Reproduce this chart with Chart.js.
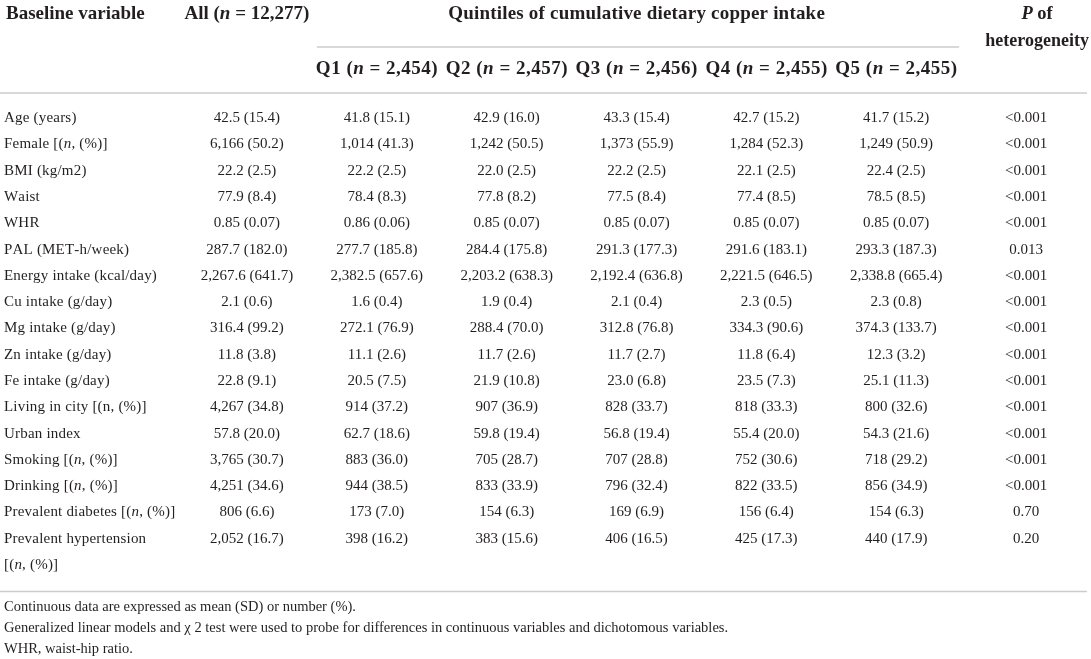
<!DOCTYPE html>
<html>
<head>
<meta charset="utf-8">
<script src="https://cdn.jsdelivr.net/npm/chart.js@4.4.1/dist/chart.umd.min.js"></script>
<style>
  html, body { margin: 0; padding: 0; background: #ffffff; }
  #wrap { width: 1091px; height: 659px; position: relative; }
</style>
</head>
<body>
<div id="wrap"><canvas id="c"></canvas></div>
<script>
// ---- Data (asterisks mark italic segments, | marks a line break) ----
const headerTitle = 'Baseline variable';
const columnHeaders = ['All (*n* = 12,277)', 'Q1 (*n* = 2,454)', 'Q2 (*n* = 2,457)', 'Q3 (*n* = 2,456)', 'Q4 (*n* = 2,455)', 'Q5 (*n* = 2,455)', '*P* of|heterogeneity'];
const groupHeader = 'Quintiles of cumulative dietary copper intake';

const rowLabels = [
  'Age (years)', 'Female [(*n*, (%)]', 'BMI (kg/m2)', 'Waist', 'WHR', 'PAL (MET-h/week)',
  'Energy intake (kcal/day)', 'Cu intake (g/day)', 'Mg intake (g/day)', 'Zn intake (g/day)',
  'Fe intake (g/day)', 'Living in city [(n, (%)]', 'Urban index', 'Smoking [(*n*, (%)]',
  'Drinking [(*n*, (%)]', 'Prevalent diabetes [(*n*, (%)]', 'Prevalent hypertension|[(*n*, (%)]'
];

const allValues = ['42.5 (15.4)', '6,166 (50.2)', '22.2 (2.5)', '77.9 (8.4)', '0.85 (0.07)', '287.7 (182.0)', '2,267.6 (641.7)', '2.1 (0.6)', '316.4 (99.2)', '11.8 (3.8)', '22.8 (9.1)', '4,267 (34.8)', '57.8 (20.0)', '3,765 (30.7)', '4,251 (34.6)', '806 (6.6)', '2,052 (16.7)'];
const q1Values = ['41.8 (15.1)', '1,014 (41.3)', '22.2 (2.5)', '78.4 (8.3)', '0.86 (0.06)', '277.7 (185.8)', '2,382.5 (657.6)', '1.6 (0.4)', '272.1 (76.9)', '11.1 (2.6)', '20.5 (7.5)', '914 (37.2)', '62.7 (18.6)', '883 (36.0)', '944 (38.5)', '173 (7.0)', '398 (16.2)'];
const q2Values = ['42.9 (16.0)', '1,242 (50.5)', '22.0 (2.5)', '77.8 (8.2)', '0.85 (0.07)', '284.4 (175.8)', '2,203.2 (638.3)', '1.9 (0.4)', '288.4 (70.0)', '11.7 (2.6)', '21.9 (10.8)', '907 (36.9)', '59.8 (19.4)', '705 (28.7)', '833 (33.9)', '154 (6.3)', '383 (15.6)'];
const q3Values = ['43.3 (15.4)', '1,373 (55.9)', '22.2 (2.5)', '77.5 (8.4)', '0.85 (0.07)', '291.3 (177.3)', '2,192.4 (636.8)', '2.1 (0.4)', '312.8 (76.8)', '11.7 (2.7)', '23.0 (6.8)', '828 (33.7)', '56.8 (19.4)', '707 (28.8)', '796 (32.4)', '169 (6.9)', '406 (16.5)'];
const q4Values = ['42.7 (15.2)', '1,284 (52.3)', '22.1 (2.5)', '77.4 (8.5)', '0.85 (0.07)', '291.6 (183.1)', '2,221.5 (646.5)', '2.3 (0.5)', '334.3 (90.6)', '11.8 (6.4)', '23.5 (7.3)', '818 (33.3)', '55.4 (20.0)', '752 (30.6)', '822 (33.5)', '156 (6.4)', '425 (17.3)'];
const q5Values = ['41.7 (15.2)', '1,249 (50.9)', '22.4 (2.5)', '78.5 (8.5)', '0.85 (0.07)', '293.3 (187.3)', '2,338.8 (665.4)', '2.3 (0.8)', '374.3 (133.7)', '12.3 (3.2)', '25.1 (11.3)', '800 (32.6)', '54.3 (21.6)', '718 (29.2)', '856 (34.9)', '154 (6.3)', '440 (17.9)'];
const pValues = ['<0.001', '<0.001', '<0.001', '<0.001', '<0.001', '0.013', '<0.001', '<0.001', '<0.001', '<0.001', '<0.001', '<0.001', '<0.001', '<0.001', '<0.001', '0.70', '0.20'];

const footnotes = [
  'Continuous data are expressed as mean (SD) or number (%).',
  'Generalized linear models and \u03c7 2 test were used to probe for differences in continuous variables and dichotomous variables.',
  'WHR, waist-hip ratio.'
];

const columns = [allValues, q1Values, q2Values, q3Values, q4Values, q5Values, pValues];
const columnKeys = ['All', 'Q1', 'Q2', 'Q3', 'Q4', 'Q5', 'P'];

// ---- Rendering helpers ----
const TEXT = '#231f20';
const RULE = '#cccccc';
const FAMILY = '"Liberation Serif", "Times New Roman", serif';

function fontStr(italic, bold, size) {
  return (italic ? 'italic ' : '') + (bold ? 'bold ' : '') + size + 'px ' + FAMILY;
}
function segWidth(ctx, s, spacing) {
  if (!spacing) return ctx.measureText(s).width;
  let w = 0;
  for (const ch of s) w += ctx.measureText(ch).width + spacing;
  return w;
}
function drawRich(ctx, text, x, y, align, size, bold, spacing) {
  spacing = spacing || 0;
  const parts = text.split('*');
  const widths = parts.map((p, i) => { ctx.font = fontStr(i % 2 === 1, bold, size); return segWidth(ctx, p, spacing); });
  const total = widths.reduce((a, b) => a + b, 0) - (spacing ? spacing : 0);
  let cx = align === 'center' ? x - total / 2 : (align === 'right' ? x - total : x);
  ctx.textAlign = 'left';
  ctx.textBaseline = 'middle';
  parts.forEach((p, i) => {
    ctx.font = fontStr(i % 2 === 1, bold, size);
    if (!spacing) {
      ctx.fillText(p, cx, y);
      cx += widths[i];
    } else {
      for (const ch of p) {
        ctx.fillText(ch, cx, y);
        cx += ctx.measureText(ch).width + spacing;
      }
    }
  });
}
function hline(ctx, x1, x2, y) {
  ctx.save();
  ctx.strokeStyle = RULE;
  ctx.lineWidth = 1.5;
  ctx.beginPath();
  ctx.moveTo(x1, y);
  ctx.lineTo(x2, y);
  ctx.stroke();
  ctx.restore();
}

const tablePlugin = {
  id: 'tableDraw',
  afterDraw(chart) {
    const ctx = chart.ctx;
    const xs = chart.scales.x, ys = chart.scales.y;
    const area = chart.chartArea;
    const colStep = xs.getPixelForValue(1) - xs.getPixelForValue(0);
    const rowStep = ys.getPixelForValue(1) - ys.getPixelForValue(0);
    const top = ys.getPixelForValue(0) - rowStep / 2;
    const lastRowY = ys.getPixelForValue(rowLabels.length - 1);
    const labelX = 4;
    ctx.save();
    ctx.fillStyle = TEXT;

    // Header
    const h1 = top - 91, h2 = top - 36;
    drawRich(ctx, headerTitle, labelX + 2, h1, 'left', 19, true);
    drawRich(ctx, columnHeaders[0], xs.getPixelForValue(0), h1, 'center', 19, true);
    const q1x = xs.getPixelForValue(1), q5x = xs.getPixelForValue(5);
    drawRich(ctx, groupHeader, (q1x + q5x) / 2, h1, 'center', 19, true, 0.2);
    hline(ctx, q1x - colStep / 2 + 5, q5x + colStep / 2 - 2, top - 58);
    for (let i = 1; i <= 5; i++) {
      drawRich(ctx, columnHeaders[i], xs.getPixelForValue(i), h2, 'center', 19, true, 0.5);
    }
    const pHead = columnHeaders[6].split('|');
    const px = xs.getPixelForValue(6) + 11;
    drawRich(ctx, pHead[0], px, h1, 'center', 18.5, true);
    drawRich(ctx, pHead[1], px, h1 + 27, 'center', 18, true);
    hline(ctx, 0, area.right - 4, top - 12);

    // Body
    rowLabels.forEach((lab, r) => {
      const y = ys.getPixelForValue(r);
      const lines = lab.split('|');
      lines.forEach((ln, k) => drawRich(ctx, ln, labelX, y + k * rowStep * 0.98, 'left', 15, false, 0.2));
      columns.forEach((col, c) => {
        drawRich(ctx, col[r], xs.getPixelForValue(c), y, 'center', 15, false);
      });
    });

    // Bottom rule and footnotes
    const bottomRule = lastRowY + rowStep * 2;
    hline(ctx, 0, area.right - 4, bottomRule);
    footnotes.forEach((f, i) => {
      drawRich(ctx, f, labelX, bottomRule + 16 + i * 21, 'left', 14.5, false);
    });
    ctx.restore();
  }
};

new Chart(document.getElementById('c'), {
  type: 'scatter',
  data: { datasets: [] },
  options: {
    responsive: true,
    maintainAspectRatio: false,
    animation: false,
    events: [],
    layout: { padding: { left: 182, right: 0, top: 105, bottom: 107 } },
    plugins: { legend: { display: false }, tooltip: { enabled: false } },
    scales: {
      x: { type: 'category', labels: columnKeys, min: columnKeys[0], max: columnKeys[columnKeys.length - 1], offset: true, display: false },
      y: { type: 'category', labels: rowLabels, min: rowLabels[0], max: rowLabels[rowLabels.length - 1], offset: true, display: false }
    }
  },
  plugins: [tablePlugin]
});
</script>
</body>
</html>
